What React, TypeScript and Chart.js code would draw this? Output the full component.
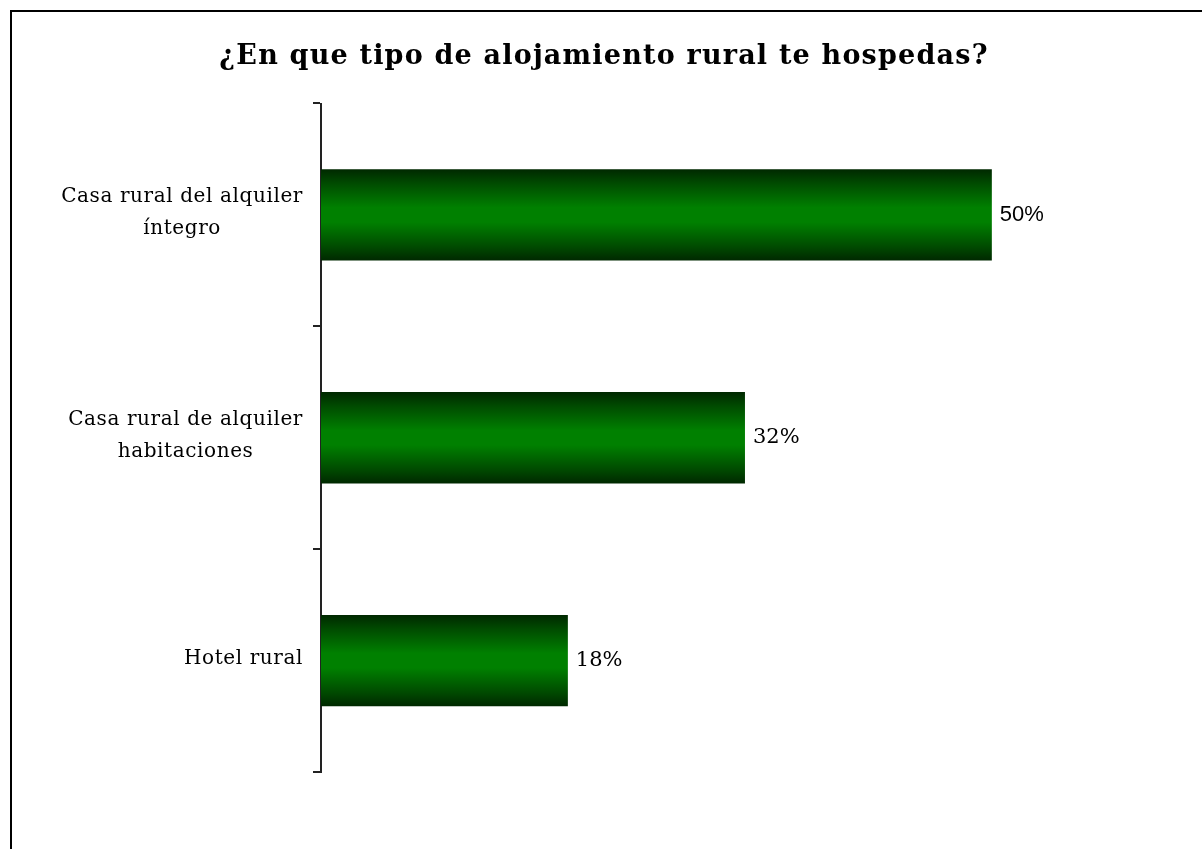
import React, { useEffect, useRef } from "react";
import { Chart, registerables } from "chart.js";

Chart.register(...registerables);

const titleText = "¿En que tipo de alojamiento rural te hospedas?";
const categories: string[][] = [
  ["Casa rural del alquiler", "íntegro"],
  ["Casa rural de alquiler", "habitaciones"],
  ["Hotel rural"],
];
const values: number[] = [50, 31.6, 18.4];
const valueLabels: string[] = ["50%", "32%", "18%"];
const valueFonts: string[] = [
  '22px "Liberation Sans"',
  '21px "DejaVu Serif"',
  '21px "DejaVu Serif"',
];

const BAR_PCT = 0.41;
const X_MAX = 60;

export default function App() {
  const ref = useRef<HTMLCanvasElement | null>(null);

  useEffect(() => {
    const canvas = ref.current;
    if (!canvas) return;

    const framePlugin = {
      id: "frame",
      beforeDraw(chart: any) {
        const ctx = chart.ctx;
        ctx.save();
        ctx.fillStyle = "#ffffff";
        ctx.fillRect(0, 0, chart.width, chart.height);
        ctx.fillStyle = "#000000";
        ctx.fillRect(10, 10, chart.width, 2);
        ctx.fillRect(10, 10, 2, chart.height);
        // title
        ctx.font = 'bold 27px "DejaVu Serif"';
        (ctx as any).letterSpacing = "1.2px";
        ctx.textAlign = "center";
        ctx.textBaseline = "middle";
        ctx.fillStyle = "#000000";
        ctx.fillText(titleText, 604, 57);
        (ctx as any).letterSpacing = "0px";
        ctx.restore();
      },
    };

    const labelPlugin = {
      id: "labels",
      afterDatasetsDraw(chart: any) {
        const ctx = chart.ctx;
        const ys = chart.scales.y;
        const xs = chart.scales.x;
        const area = chart.chartArea;
        ctx.save();
        ctx.font = '20px "DejaVu Serif"';
        (ctx as any).letterSpacing = "0.6px";
        ctx.fillStyle = "#000000";
        ctx.textAlign = "center";
        ctx.textBaseline = "middle";
        const right = area.left - 18;
        const lineGap = 32;
        categories.forEach((lines, i) => {
          const widths = lines.map((l) => ctx.measureText(l).width);
          const w = Math.max(...widths);
          const cx = right - w / 2;
          const cy = ys.getPixelForValue(i) - 2;
          const startY = cy - ((lines.length - 1) * lineGap) / 2;
          lines.forEach((l, k) => {
            ctx.fillText(l, cx, startY + k * lineGap);
          });
        });
        (ctx as any).letterSpacing = "0px";
        ctx.textAlign = "left";
        values.forEach((v, i) => {
          ctx.font = valueFonts[i];
          const x = xs.getPixelForValue(v) + 8;
          const y = ys.getPixelForValue(i);
          ctx.fillText(valueLabels[i], x, y);
        });
        ctx.restore();
      },
    };

    const chart = new Chart(canvas, {
      type: "bar",
      data: {
        labels: categories.map((c) => c.join(" ")),
        datasets: [
          {
            data: values,
            categoryPercentage: 1,
            barPercentage: BAR_PCT,
            borderWidth: 0,
            backgroundColor: (c: any) => {
              const ch = c.chart;
              const ys = ch.scales && ch.scales.y;
              if (!ys || !ch.chartArea) return "#008000";
              const center = ys.getPixelForValue(c.dataIndex);
              const half = ((ys.height / categories.length) * BAR_PCT) / 2;
              const g = ch.ctx.createLinearGradient(0, center - half, 0, center + half);
              g.addColorStop(0, "#002800");
              g.addColorStop(0.15, "#004a00");
              g.addColorStop(0.42, "#008000");
              g.addColorStop(0.58, "#008000");
              g.addColorStop(0.85, "#004a00");
              g.addColorStop(1, "#002800");
              return g;
            },
          },
        ],
      },
      options: {
        indexAxis: "y",
        responsive: false,
        animation: false,
        layout: { padding: { top: 103.5, bottom: 77, left: 0, right: 76 } },
        plugins: {
          legend: { display: false },
          tooltip: { enabled: false },
          title: { display: false },
        },
        scales: {
          x: {
            display: false,
            min: 0,
            max: X_MAX,
          },
          y: {
            offset: true,
            grid: {
              offset: true,
              drawOnChartArea: false,
              drawTicks: true,
              tickLength: 8,
              color: "#222222",
              lineWidth: 2,
            },
            border: { display: true, color: "#222222", width: 2 },
            ticks: { display: false },
            afterFit: (scale: any) => {
              scale.width = 321;
            },
          },
        },
      },
      plugins: [framePlugin, labelPlugin],
    } as any);

    return () => chart.destroy();
  }, []);

  return (
    <div style={{ position: "absolute", left: 0, top: 0, width: 1202, height: 849 }}>
      <canvas ref={ref} width={1202} height={849} style={{ display: "block" }} />
    </div>
  );
}
